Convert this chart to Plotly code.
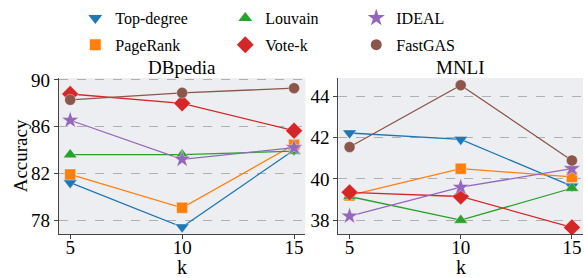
import plotly.graph_objects as go
from plotly.subplots import make_subplots

k_values = [5, 10, 15]
methods = ["Top-degree", "PageRank", "Louvain", "Vote-k", "IDEAL", "FastGAS"]
dbpedia = {
    "Top-degree": [81.2, 77.4, 84.0],
    "PageRank": [81.9, 79.05, 84.45],
    "Louvain": [83.6, 83.6, 83.9],
    "Vote-k": [88.8, 88.0, 85.65],
    "IDEAL": [86.55, 83.2, 84.2],
    "FastGAS": [88.3, 88.9, 89.3],
}
mnli = {
    "Top-degree": [42.23, 41.92, 39.65],
    "PageRank": [39.2, 40.5, 40.1],
    "Louvain": [39.15, 38.0, 39.55],
    "Vote-k": [39.35, 39.15, 37.65],
    "IDEAL": [38.2, 39.6, 40.5],
    "FastGAS": [41.55, 44.55, 40.9],
}
colors = {"Top-degree": "#1f77b4", "PageRank": "#ff7f0e", "Louvain": "#2ca02c",
          "Vote-k": "#d62728", "IDEAL": "#9467bd", "FastGAS": "#8c564b"}
symbols = {"Top-degree": "triangle-down", "PageRank": "square", "Louvain": "triangle-up",
           "Vote-k": "diamond", "IDEAL": "star", "FastGAS": "circle"}
sizes = {"Top-degree": 12, "PageRank": 11, "Louvain": 12, "Vote-k": 13, "IDEAL": 13, "FastGAS": 11}
legend_of = {"Top-degree": "legend", "PageRank": "legend", "Louvain": "legend2",
             "Vote-k": "legend2", "IDEAL": "legend3", "FastGAS": "legend3"}

FONT = "Liberation Serif"
W, H = 585, 278
ML, MR, MT, MB = 58.7, 2.2, 78, 44
PW, PH = W - ML - MR, H - MT - MB


def lx(px):
    return (px - ML) / PW


def ly(py):
    return (H - MB - py) / PH


fig = make_subplots(rows=1, cols=2)

for col, data in ((1, dbpedia), (2, mnli)):
    for m in methods:
        fig.add_trace(go.Scatter(
            x=k_values, y=data[m], mode="lines+markers", name=m,
            line=dict(color=colors[m], width=1.3),
            marker=dict(symbol=symbols[m], size=sizes[m], color=colors[m],
                        line=dict(color="rgba(255,255,255,0.6)", width=0.6)),
            showlegend=False, legendgroup=m,
        ), row=1, col=col)

# legend entries (marker only, as in the reference)
for m in methods:
    fig.add_trace(go.Scatter(
        x=[None], y=[None], mode="markers", name=m,
        marker=dict(symbol=symbols[m], size=sizes[m], color=colors[m]),
        showlegend=True, legend=legend_of[m], legendgroup=m,
    ), row=1, col=1)

axis_common = dict(showline=True, linecolor="#444", linewidth=1.3, ticks="outside",
                   ticklen=4, tickcolor="#444", tickfont=dict(family=FONT, size=19, color="black"),
                   zeroline=False, mirror=False, automargin=False)
fig.update_xaxes(**axis_common, range=[4.5, 15.5], tickvals=k_values, showgrid=False,
                 ticklabelstandoff=-8)
fig.update_yaxes(**axis_common, showgrid=True, gridcolor="#b0b0b0", griddash="dash", gridwidth=0.8)
x1d = [0, lx(305)]
x2d = [lx(338.2), 1]
fig.update_layout(
    xaxis=dict(domain=x1d),
    xaxis2=dict(domain=x2d),
    yaxis=dict(domain=[0, 1], range=[76.8, 90.17], tickvals=[78, 82, 86, 90]),
    yaxis2=dict(domain=[0, 1], range=[37.33, 44.9], tickvals=[38, 40, 42, 44]),
)

# panel titles
for xc, txt in ((sum(x1d) / 2, "DBpedia"), (sum(x2d) / 2, "MNLI")):
    fig.add_annotation(text=txt, x=xc, y=1, xref="paper", yref="paper", xanchor="center",
                       yanchor="bottom", showarrow=False, yshift=-2,
                       font=dict(family=FONT, size=19, color="black"))
# axis titles
for xc in (lx(181.3), lx(460.3)):
    fig.add_annotation(text="k", x=xc, y=ly(267), xref="paper", yref="paper", xanchor="center",
                       yanchor="middle", showarrow=False,
                       font=dict(family=FONT, size=20, color="black"))
fig.add_annotation(text="Accuracy", x=lx(20), y=ly(156), xref="paper", yref="paper",
                   xanchor="center", yanchor="middle", textangle=-90, showarrow=False,
                   font=dict(family=FONT, size=19, color="black"))

leg_common = dict(orientation="v", font=dict(family=FONT, size=16, color="black"),
                  bgcolor="rgba(0,0,0,0)", xanchor="left", yanchor="top",
                  y=ly(1), tracegroupgap=3, itemsizing="trace")
fig.update_layout(
    legend=dict(**leg_common, x=lx(75)),
    legend2=dict(**leg_common, x=lx(225)),
    legend3=dict(**leg_common, x=lx(356)),
    width=W, height=H, margin=dict(l=ML, r=MR, t=MT, b=MB, autoexpand=False),
    plot_bgcolor="#eceef1", paper_bgcolor="white",
    font=dict(family=FONT, color="black"),
)

fig.write_html("out.html", config={"displayModeBar": False},
               post_script="document.body.style.margin='0';")
